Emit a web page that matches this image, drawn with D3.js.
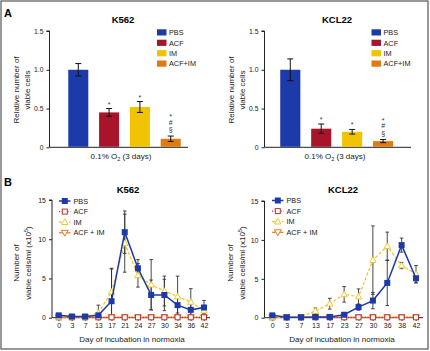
<!DOCTYPE html>
<html><head><meta charset="utf-8">
<script src="https://cdn.jsdelivr.net/npm/d3@7"></script>
<style>body{margin:0;background:#fff}svg{display:block;font-family:"Liberation Sans",Arial,sans-serif}</style>
</head><body><svg id="c" width="430" height="351"></svg>
<script>
// ---- Panel A data ----
const groupsA = ["PBS","ACF","IM","ACF+IM"];
const k562Bar = [1.0, 0.45, 0.52, 0.11];
const k562BarErr = [0.08, 0.05, 0.07, 0.035];
const kcl22Bar = [1.0, 0.24, 0.20, 0.08];
const kcl22BarErr = [0.14, 0.06, 0.03, 0.02];
const barMarks = [[], ["*"], ["*"], ["§","#","*"]];
const yTicksA = [0, 0.5, 1.0, 1.5];
const yTickLabelsA = ["0","0.5","1.0","1.5"];
const barColors = ["#1c3aa9","#a8142a","#f0c400","#e07b12"];

// ---- Panel B data ----
const k562Days = ["0","3","7","13","17","21","24","27","30","34","36","42"];
const k562PBS = [0.3,0.15,0.15,0.3,2.1,10.9,6.3,2.9,2.9,1.6,1.0,1.3];
const k562PBSErr = [0.1,0.05,0.05,0.3,4.1,2.7,1.1,1.9,2.0,1.0,0.8,0.9];
const k562ACF = [0.05,0.05,0.05,0.05,0.05,0.05,0.05,0.05,0.05,0.05,0.05,0.05];
const k562IM = [0.1,0.1,0.1,0.6,3.3,9.5,5.4,4.2,3.4,2.7,2.0,0.9];
const k562IMErr = [0.05,0.05,0.05,1.0,3.0,3.7,1.5,3.2,1.9,2.6,1.7,0.4];
const k562Combo = [0.05,0.05,0.05,0.05,0.05,0.05,0.05,0.05,0.05,0.05,0.05,0.05];

const kcl22Days = ["0","3","7","13","17","23","27","30","36","38","42"];
const kcl22PBS = [0.3,0.05,0.05,0.1,0.1,0.38,1.36,2.2,4.47,9.33,5.07];
const kcl22PBSErr = [0.1,0.05,0.05,0.05,0.05,0.1,0.4,1.05,2.9,0.9,0.6];
const kcl22ACF = [0.05,0.05,0.05,0.05,0.05,0.05,0.05,0.05,0.05,0.05,0.05];
const kcl22IM = [0.05,0.05,0.05,0.85,1.8,3.0,2.7,7.4,9.2,6.7,5.6];
const kcl22IMErr = [0.05,0.05,0.05,0.4,0.7,1.0,1.0,4.4,1.8,0.4,1.1];
const kcl22Combo = [0.05,0.05,0.05,0.05,0.05,0.05,0.05,0.05,0.05,0.05,0.05];
const yTicksB = [0,5,10,15];

const seriesNames = ["PBS","ACF","IM","ACF + IM"];
const lineColors = ["#1c3aa9","#b8322e","#f0c419","#e07b20"];

const svg = d3.select("#c");
svg.append("rect").attr("x",1).attr("y",1).attr("width",427).attr("height",348)
  .attr("fill","none").attr("stroke","#555").attr("stroke-width",1.2);

svg.append("text").attr("x",4).attr("y",17).attr("font-weight","bold").attr("font-size",11).text("A");
svg.append("text").attr("x",4).attr("y",186).attr("font-weight","bold").attr("font-size",11).text("B");

function barPanel(o){
  const g = svg.append("g");
  const y = d3.scaleLinear().domain([0,1.5]).range([147.3,31]);
  const x = d3.scaleBand().domain(groupsA).range([o.x0,o.x1]).padding(0.35);
  // y axis
  const ya = g.append("g").attr("transform",`translate(${o.ax},0)`)
    .call(d3.axisLeft(y).tickValues(yTicksA).tickFormat((d,i)=>yTickLabelsA[i]).tickSize(3).tickPadding(3));
  ya.select(".domain").attr("stroke","#222").attr("d",`M-3,${y(1.5)}H0V${y(0)}`);
  ya.selectAll("text").attr("font-size",6.8).attr("fill","#222").attr("font-family","Liberation Sans");
  ya.selectAll("line").attr("stroke","#222");
  // x axis line
  g.append("line").attr("x1",o.ax).attr("x2",o.xe).attr("y1",y(0)).attr("y2",y(0)).attr("stroke","#222");
  // bars
  g.selectAll("rect.bar").data(o.vals).join("rect")
    .attr("x",(d,i)=>x(groupsA[i])).attr("width",x.bandwidth())
    .attr("y",d=>y(d)).attr("height",d=>y(0)-y(d)-0.5)
    .attr("fill",(d,i)=>barColors[i]);
  // error bars
  o.vals.forEach((v,i)=>{
    const cx = x(groupsA[i])+x.bandwidth()/2, e=o.errs[i];
    g.append("path").attr("d",`M${cx},${y(v-e)}V${y(v+e)}M${cx-3},${y(v-e)}H${cx+3}M${cx-3},${y(v+e)}H${cx+3}`)
      .attr("stroke","#111").attr("stroke-width",1).attr("fill","none");
    barMarks[i].forEach((m,j)=>{
      g.append("text").attr("x",cx).attr("y",y(v+e)-4-j*7.5+(m==="*"?2:0))
        .attr("text-anchor","middle").attr("font-size",m==="*"?7:7).attr("fill","#333").text(m);
    });
  });
  // title
  g.append("text").attr("x",o.tx).attr("y",23).attr("text-anchor","middle")
    .attr("font-weight","bold").attr("font-size",9.5).text(o.title);
  // x label
  const xl = g.append("text").attr("x",o.xlx).attr("y",158.5).attr("text-anchor","middle").attr("font-size",8).attr("fill","#222");
  xl.append("tspan").text("0.1% O");
  xl.append("tspan").attr("font-size",5.5).attr("dy",2).text("2");
  xl.append("tspan").attr("dy",-2).text(o.gap+"(3 days)");
  // y label
  const yl = g.append("text").attr("transform",`translate(${o.ylx},90) rotate(-90)`).attr("text-anchor","middle").attr("font-size",8).attr("fill","#222");
  yl.append("tspan").attr("x",0).attr("y",0).text("Relative number of");
  yl.append("tspan").attr("x",0).attr("y",11).text("viable cells");
  // legend
  groupsA.forEach((n,i)=>{
    g.append("rect").attr("x",o.lx).attr("y",29.3+i*10.4).attr("width",9.5).attr("height",6.2).attr("fill",barColors[i]);
    g.append("text").attr("x",o.lx+12).attr("y",35.2+i*10.4).attr("font-size",7.3).attr("fill","#222").text(n);
  });
}
barPanel({x0:57.5,x1:191.5,ax:49.5,xe:188,vals:k562Bar,errs:k562BarErr,title:"K562",tx:123,xlx:121,ylx:19,lx:157,gap:" "});
barPanel({x0:269.4,x1:404,ax:264.5,xe:411,vals:kcl22Bar,errs:kcl22BarErr,title:"KCL22",tx:337,xlx:335,ylx:234,lx:371.5,gap:"  "});

function sym(g,type,x,y,color){
  if(type===0){
    g.append("rect").attr("x",x-3).attr("y",y-3).attr("width",6).attr("height",6).attr("fill",color);
  } else if(type===1){
    g.append("rect").attr("x",x-2.5).attr("y",y-2.5).attr("width",5).attr("height",5).attr("fill","#fff").attr("stroke",color).attr("stroke-width",1);
  } else if(type===2){
    g.append("path").attr("d",`M${x},${y-3.3}L${x+3.2},${y+2.3}L${x-3.2},${y+2.3}Z`).attr("fill","#fff").attr("stroke",color).attr("stroke-width",0.9);
  } else {
    g.append("path").attr("d",`M${x},${y+3.3}L${x+3.4},${y-2.5}L${x-3.4},${y-2.5}Z`).attr("fill","#fff").attr("stroke",color).attr("stroke-width",1);
  }
}

function linePanel(o){
  const g = svg.append("g");
  const y = d3.scaleLinear().domain([0,15]).range([317.7,o.ytop]);
  const x = d3.scalePoint().domain(o.days).range([o.r0,o.r1]);
  const ya = g.append("g").attr("transform",`translate(${o.ax},0)`)
    .call(d3.axisLeft(y).tickValues(yTicksB).tickSize(3).tickPadding(3));
  ya.select(".domain").attr("stroke","#222").attr("d",`M-3,${y(15)}H0V${y(0)}`);
  ya.selectAll("text").attr("font-size",7).attr("fill","#222").attr("font-family","Liberation Sans");
  ya.selectAll("line").attr("stroke","#222");
  const xa = g.append("g").attr("transform",`translate(0,${y(0)})`)
    .call(d3.axisBottom(x).tickSize(3).tickPadding(2));
  xa.select(".domain").attr("stroke","#222").attr("d",`M${o.ax},0H${o.xe}`);
  xa.selectAll("text").attr("font-size",7).attr("fill","#222").attr("font-family","Liberation Sans");
  xa.selectAll("line").attr("stroke","#222");
  // error bars
  [[o.pbs,o.pbsErr],[o.im,o.imErr]].forEach(([vals,errs])=>{
    vals.forEach((v,i)=>{
      const cx=x(o.days[i]), lo=Math.max(0,v-errs[i]), hi=v+errs[i];
      g.append("path").attr("d",`M${cx},${y(lo)}V${y(hi)}M${cx-1.8},${y(lo)}H${cx+1.8}M${cx-1.8},${y(hi)}H${cx+1.8}`)
        .attr("stroke","#333").attr("stroke-width",0.9).attr("fill","none");
    });
  });
  const line = d3.line().x((d,i)=>x(o.days[i])).y(d=>y(d));
  const defs = [
    {vals:o.combo,color:lineColors[3],dash:null,w:1.3,type:3},
    {vals:o.acf,color:lineColors[1],dash:"1.2,1.6",w:1.2,type:1},
    {vals:o.im,color:lineColors[2],dash:"3,2",w:1.2,type:2},
    {vals:o.pbs,color:lineColors[0],dash:null,w:1.5,type:0}
  ];
  defs.forEach(s=>{
    g.append("path").attr("d",line(s.vals)).attr("fill","none").attr("stroke",s.color)
      .attr("stroke-width",s.w).attr("stroke-dasharray",s.dash);
    s.vals.forEach((v,i)=>sym(g,s.type,x(o.days[i]),y(v),s.color));
  });
  // title
  g.append("text").attr("x",o.tx).attr("y",193).attr("text-anchor","middle").attr("font-weight","bold").attr("font-size",9.5).text(o.title);
  g.append("text").attr("x",o.xlx).attr("y",342).attr("text-anchor","middle").attr("font-size",8).attr("fill","#222").text("Day of incubation in normoxia");
  const yl = g.append("text").attr("transform",`translate(${o.ylx},263) rotate(-90)`).attr("text-anchor","middle").attr("font-size",8).attr("fill","#222");
  yl.append("tspan").attr("x",0).attr("y",0).text("Number of");
  const t2 = yl.append("tspan").attr("x",0).attr("y",11.5).text("viable cells/ml (x10");
  yl.append("tspan").attr("font-size",5.5).attr("dy",-3).text("5");
  yl.append("tspan").attr("dy",3).text(")");
  // legend
  const types=[0,1,2,3], dashes=[null,"1.2,1.6","3,2",null];
  seriesNames.forEach((n,i)=>{
    const ly = o.ly+i*10.6;
    g.append("line").attr("x1",o.lx).attr("x2",o.lx+11.5).attr("y1",ly).attr("y2",ly)
      .attr("stroke",lineColors[i]).attr("stroke-width",i===0?1.5:1.2).attr("stroke-dasharray",dashes[i]);
    sym(g,types[i],o.lx+5.8,ly,lineColors[i]);
    g.append("text").attr("x",o.lx+14.5).attr("y",ly+2.6).attr("font-size",7.3).attr("fill","#222").text(n);
  });
}
linePanel({days:k562Days,pbs:k562PBS,pbsErr:k562PBSErr,acf:k562ACF,im:k562IM,imErr:k562IMErr,combo:k562Combo,
  r0:58.7,r1:204,ax:52,xe:210,ytop:200,title:"K562",tx:128,xlx:132,ylx:19,lx:59,ly:201});
linePanel({days:kcl22Days,pbs:kcl22PBS,pbsErr:kcl22PBSErr,acf:kcl22ACF,im:kcl22IM,imErr:kcl22IMErr,combo:kcl22Combo,
  r0:272.3,r1:416,ax:264.5,xe:423,ytop:201,title:"KCL22",tx:343,xlx:342,ylx:233,lx:272,ly:200.5});
</script></body></html>
